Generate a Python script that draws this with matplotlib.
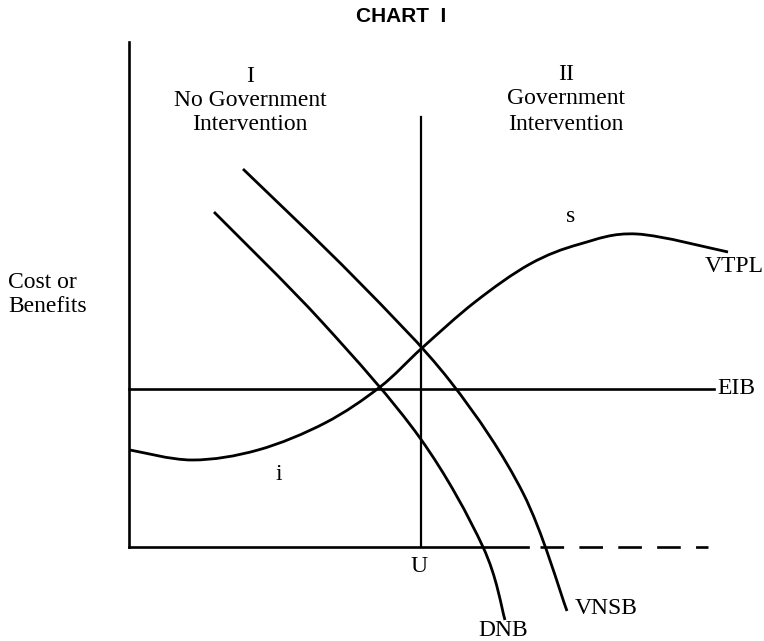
import matplotlib
matplotlib.use("Agg")
import matplotlib.pyplot as plt
from matplotlib.path import Path
from matplotlib.patches import PathPatch

plt.rcParams['lines.scale_dashes'] = False

# Curves (in image coordinates: x right, y down)
dnb_x = [214, 322, 420, 483, 505]
dnb_y = [212, 322, 438, 547, 620]

vnsb_x = [243, 355, 450, 523, 567]
vnsb_y = [169, 278, 381, 493, 611]

vtpl_x = [130, 192, 258, 325, 380, 422, 475, 530, 580, 637, 728]
vtpl_y = [450, 460, 450, 423, 387, 348, 302, 264, 244, 234, 252]

eib_level = 389
u_position = 421

serif = ['Liberation Serif', 'DejaVu Serif']

fig = plt.figure(figsize=(7.64, 6.41), dpi=100)
ax = fig.add_axes([0, 0, 1, 1])
ax.set_xlim(0, 764)
ax.set_ylim(641, 0)
ax.axis('off')


def smooth_path(xs, ys):
    pts = list(zip(xs, ys))
    verts = [pts[0]]
    codes = [Path.MOVETO]
    n = len(pts)
    for i in range(n - 1):
        p0 = pts[i - 1] if i > 0 else pts[i]
        p1 = pts[i]
        p2 = pts[i + 1]
        p3 = pts[i + 2] if i + 2 < n else pts[i + 1]
        c1 = (p1[0] + (p2[0] - p0[0]) / 6.0, p1[1] + (p2[1] - p0[1]) / 6.0)
        c2 = (p2[0] - (p3[0] - p1[0]) / 6.0, p2[1] - (p3[1] - p1[1]) / 6.0)
        verts += [c1, c2, p2]
        codes += [Path.CURVE4] * 3
    return Path(verts, codes)


for xs, ys in [(dnb_x, dnb_y), (vnsb_x, vnsb_y), (vtpl_x, vtpl_y)]:
    ax.add_patch(PathPatch(smooth_path(xs, ys), fill=False, lw=2.0,
                           edgecolor='black', capstyle='butt'))

# Axes
ax.plot([129, 129], [42, 547], color='black', lw=1.9)
ax.plot([129, 528], [547, 547], color='black', lw=1.9)
ax.plot([540, 708], [547, 547], color='black', lw=1.9, dashes=(17, 11))
# EIB line
ax.plot([129, 714], [eib_level, eib_level], color='black', lw=1.9)
# U vertical
ax.plot([u_position, u_position], [117, 547], color='black', lw=1.6)

# Texts
ax.text(401, 17, 'CHART  I', family=['Liberation Sans', 'DejaVu Sans'],
        weight='bold', fontsize=15, ha='center', va='center')

fs = 17
ax.text(250, 76, 'I', family=serif, fontsize=fs, ha='center', va='center')
ax.text(250, 101, 'No Government', family=serif, fontsize=fs, ha='center', va='center')
ax.text(250, 125, 'Intervention', family=serif, fontsize=fs, ha='center', va='center')
ax.text(566, 74, 'II', family=serif, fontsize=fs, ha='center', va='center')
ax.text(566, 99, 'Government', family=serif, fontsize=fs, ha='center', va='center')
ax.text(566, 124, 'Intervention', family=serif, fontsize=fs, ha='center', va='center')

ax.text(8, 283, 'Cost or', family=serif, fontsize=fs, ha='left', va='center')
ax.text(8, 306, 'Benefits', family=serif, fontsize=fs, ha='left', va='center')

ax.text(571, 216, 's', family=serif, fontsize=fs, ha='center', va='center')
ax.text(705, 267, 'VTPL', family=serif, fontsize=fs, ha='left', va='center')
ax.text(717, 389, 'EIB', family=serif, fontsize=fs, ha='left', va='center')
ax.text(279, 474, 'i', family=serif, fontsize=fs, ha='center', va='center')
ax.text(419, 567, 'U', family=serif, fontsize=fs, ha='center', va='center')
ax.text(575, 609, 'VNSB', family=serif, fontsize=fs, ha='left', va='center')
ax.text(503, 630, 'DNB', family=serif, fontsize=fs, ha='center', va='center')

fig.savefig('out.png', dpi=100)
